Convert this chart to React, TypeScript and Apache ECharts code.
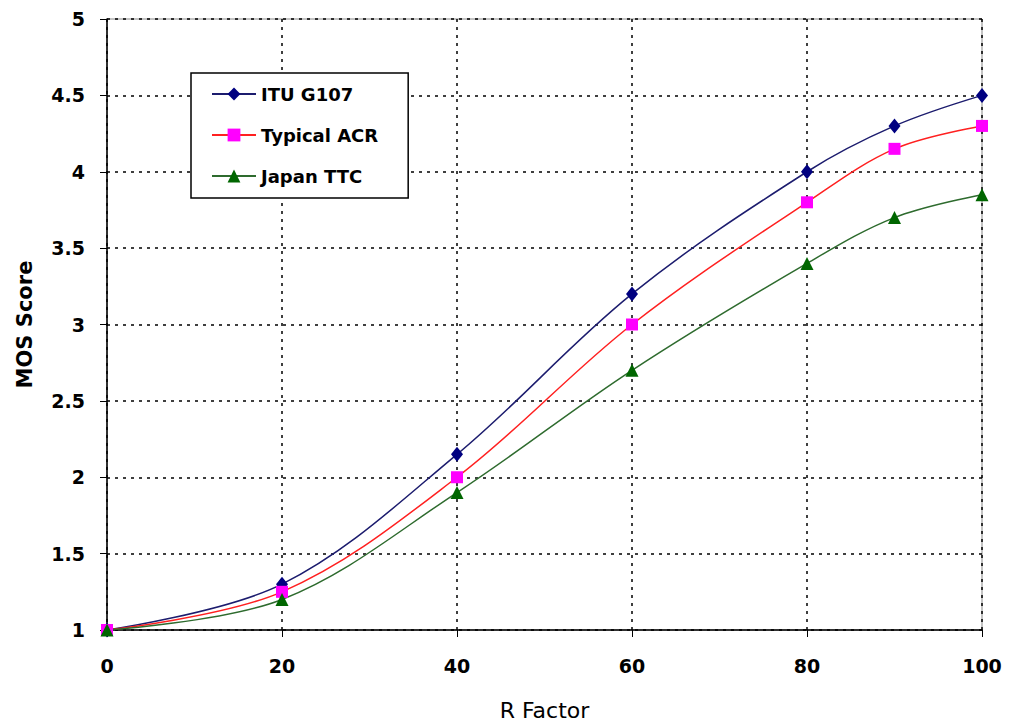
import React, { useEffect, useRef } from "react";
import * as echarts from "echarts";

const rFactor = [0, 20, 40, 60, 80, 90, 100];
const ituG107 = [1, 1.3, 2.15, 3.2, 4.0, 4.3, 4.5];
const typicalAcr = [1, 1.25, 2.0, 3.0, 3.8, 4.15, 4.3];
const japanTtc = [1, 1.2, 1.9, 2.7, 3.4, 3.7, 3.85];
const seriesNames = ["ITU G107", "Typical ACR", "Japan TTC"];

const FONT = "DejaVu Sans";

export default function App() {
  const ref = useRef<HTMLDivElement>(null);
  useEffect(() => {
    if (!ref.current) return;
    const chart = echarts.init(ref.current, undefined, { renderer: "svg" });
    const pair = (ys: number[]) => rFactor.map((x, i) => [x, ys[i]]);
    const mk = (name: string, ys: number[], color: string, markColor: string, symbol: string, size: any) => ({
      name,
      type: "line",
      data: pair(ys),
      smooth: 0.35,
      symbol,
      symbolSize: size,
      showSymbol: true,
      lineStyle: { color, width: 1.5 },
      itemStyle: { color: markColor },
      z: 3,
    });
    chart.setOption({
      animation: false,
      backgroundColor: "#fff",
      grid: {
        left: 107,
        right: 27,
        top: 19,
        bottom: 93,
        outerBoundsMode: "none",
        containLabel: false,
        show: true,
        borderColor: "#888",
        borderWidth: 1,
      },
      legend: {
        data: seriesNames,
        orient: "vertical",
        left: 191,
        top: 73,
        width: 220,
        padding: [12, 30, 13, 20],
        itemGap: 23,
        itemWidth: 44,
        itemHeight: 16,
        borderColor: "#000",
        borderWidth: 1.5,
        backgroundColor: "#fff",
        textStyle: { fontFamily: FONT, fontWeight: "bold", fontSize: 18, color: "#000" },
      },
      xAxis: {
        type: "value",
        min: 0,
        max: 100,
        interval: 20,
        name: "R Factor",
        nameLocation: "middle",
        nameGap: 80,
        nameTextStyle: { fontFamily: FONT, fontSize: 22, color: "#000", verticalAlign: "middle" },
        axisLine: { show: true, lineStyle: { color: "#000", width: 1.5 } },
        axisTick: { show: true, length: 7, lineStyle: { color: "#000" } },
        axisLabel: { fontFamily: FONT, fontWeight: "bold", fontSize: 19, color: "#000", margin: 26 },
        splitLine: { show: true, lineStyle: { color: "#000", type: [3, 5], width: 1.5 } },
      },
      yAxis: {
        type: "value",
        min: 1,
        max: 5,
        interval: 0.5,
        name: "MOS Score",
        nameLocation: "middle",
        nameGap: 72,
        nameTextStyle: { fontFamily: FONT, fontWeight: "bold", fontSize: 21, color: "#000" },
        axisLine: { show: true, lineStyle: { color: "#000", width: 1.5 } },
        axisTick: { show: true, length: 7, lineStyle: { color: "#000" } },
        axisLabel: { fontFamily: FONT, fontWeight: "bold", fontSize: 19, color: "#000", margin: 22 },
        splitLine: { show: true, lineStyle: { color: "#000", type: [3, 5], width: 1.5 } },
      },
      series: [
        mk(seriesNames[0], ituG107, "#1c1c6e", "#000080", "diamond", [12, 15]),
        mk(seriesNames[1], typicalAcr, "#ff2020", "#ff00ff", "rect", 12),
        mk(seriesNames[2], japanTtc, "#2e6b2e", "#006600", "triangle", 13),
      ],
    });
    return () => chart.dispose();
  }, []);
  return (
    <div
      ref={ref}
      style={{ position: "absolute", left: 0, top: 0, width: 1009, height: 723 }}
    />
  );
}
